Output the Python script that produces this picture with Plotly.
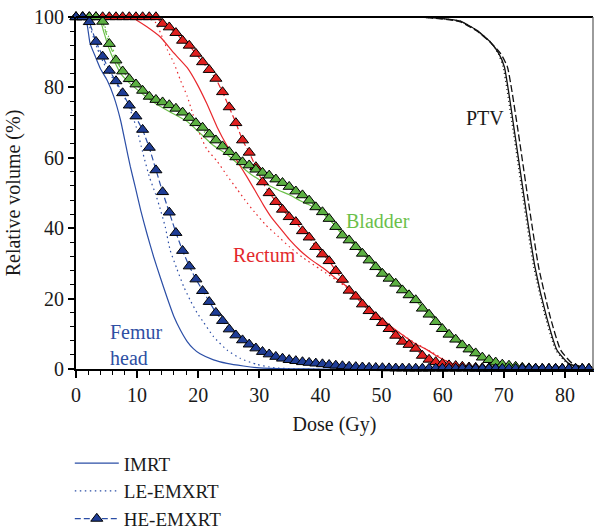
import plotly.graph_objects as go

# ---------------- data ----------------
# HE-EMXRT sampled doses (Gy) at marker positions
he_dose = [0, 1.09, 2.18, 3.27, 4.36, 5.45, 6.54, 7.63, 8.72, 9.81, 10.9, 11.99, 13.08, 14.17,
           15.26, 16.35, 17.44, 18.53, 19.62, 20.71, 21.8, 22.89, 23.98, 25.07, 26.16, 27.25,
           28.34, 29.43, 30.52, 31.61, 32.7, 33.79, 34.88, 35.97, 37.06, 38.15, 39.24, 40.33,
           41.42, 42.51, 43.6, 44.69, 45.78, 46.87, 47.96, 49.05, 50.14, 51.23, 52.32, 53.41,
           54.5, 55.59, 56.68, 57.77, 58.86, 59.95, 61.04, 62.13, 63.22, 64.31, 65.4, 66.49,
           67.58, 68.67, 69.76, 70.85, 71.94, 73.03, 74.12, 75.21, 76.3, 77.39, 78.48, 79.57,
           80.66, 81.75, 82.84, 83.93]

he_femur = [100, 100, 98.6, 93, 88.8, 84.8, 81.8, 78.4, 74.9, 71.8, 68, 62.9, 56.5, 50.3,
            44.5, 38.7, 33.6, 29.2, 25.5, 22.2, 19.1, 16, 13.7, 11.3, 9.6, 8.2,
            7, 5.9, 4.9, 4.2, 3.5, 3, 2.6, 2.3, 2, 1.8, 1.6, 1.4,
            1.2, 1.0, 0.85, 0.7, 0.6, 0.5, 0.4, 0.35, 0.3, 0.25, 0.2, 0.2,
            0.15, 0.15, 0.15, 0.15, 0.15, 0.15, 0.15, 0.15, 0.15, 0.15, 0.1, 0.1,
            0.1, 0.1, 0.1, 0.1, 0.1, 0.1, 0.1, 0.1, 0.05, 0.05, 0.05, 0.05,
            0.05, 0.05, 0.05, 0.05]

he_rectum = [100, 100, 100, 100, 100, 100, 100, 100, 100, 100, 100, 100, 100, 98.1,
             97.1, 95.5, 93.3, 91.9, 89.6, 87.2, 85, 82.5, 78.7, 74.4, 69.9, 65,
             61.5, 57.4, 53.1, 50, 47.5, 45.3, 43.2, 41.8, 39.2, 37.4, 34.7, 32.6,
             30.7, 27.9, 25.4, 22.3, 20.6, 18.4, 16.5, 14.8, 13.1, 11.4, 9.5, 7.8,
             6.9, 5.8, 3.8, 2.7, 2.0, 1.5, 1.1, 0.9, 0.7, 0.5, 0.4, 0.3,
             0.25, 0.2, 0.15, 0.1, 0.05, 0.05, 0.05, 0.05, 0.05, 0.05, 0.05, 0.05,
             0.05, 0.05, 0.05, 0.05]

he_bladder = [100, 100, 100, 100, 98.7, 92.4, 87.7, 84.6, 82.4, 80.9, 79.1, 77.4, 76.5, 75.8,
              75, 74, 72.9, 71.4, 69.9, 68.6, 66.7, 65, 63.3, 61.7, 60.2, 58.8,
              57.9, 56.7, 55.8, 55, 53.9, 52.9, 51.8, 50.5, 49.4, 47.9, 46, 44.6,
              42.7, 40.4, 38, 36.6, 34.7, 32.8, 30.9, 29, 27.1, 25.7, 24.3, 22.4,
              21, 19.6, 17.2, 15.5, 13.4, 11.4, 9.8, 8.4, 6.8, 5.6, 4.5, 3.3,
              2.6, 1.9, 1.3, 1.0, 0.7, 0.4, 0.25, 0.15, 0.05, 0.05, 0.05, 0.05,
              0.05, 0.05, 0.05, 0.05]

# IMRT / LE-EMXRT curves (dose, volume)
imrt_femur_d = [0, 1.5, 2.3, 3.2, 4.0, 5.1, 6.2, 7.3, 8.1, 8.9, 9.7, 10.6, 11.6, 12.7, 13.8,
                14.9, 16.0, 17.1, 18.2, 19.2, 20.3, 22.5, 24.7, 27.4, 30, 35, 40, 85]
imrt_femur_v = [100, 100, 92.5, 88.6, 85.3, 82, 77.3, 70.6, 64, 57.4, 51.7, 45, 38.5, 31.9, 26,
                20.3, 15, 11, 7.8, 5.8, 4.3, 2.6, 1.6, 0.85, 0.3, 0.05, 0, 0]

le_femur_d = [0, 1.5, 2.5, 3.5, 4.5, 5.5, 6.6, 7.7, 8.8, 9.9, 11, 12, 13, 13.6, 14.6, 15.4,
              16.5, 17.6, 18.7, 19.8, 20.9, 22.5, 24.7, 26.9, 29.6, 32.3, 36, 85]
le_femur_v = [100, 100, 96, 91, 87, 84, 81, 78, 74, 68.5, 61, 54.6, 49.8, 46.5, 40.4, 33.8,
              28.5, 23.5, 19.5, 16, 13.2, 9.2, 5.4, 3, 1.3, 0.4, 0, 0]

imrt_rectum_d = [0, 9, 10, 11.6, 13.8, 16, 18.2, 19.8, 21.4, 23.1, 24.7, 26.4, 28, 29.6, 30.7,
                 32, 33.4, 34.9, 36.7, 38.5, 40.5, 42.5, 44.4, 46, 47.6, 49.3, 51.4, 53.1,
                 55.3, 57.4, 59.1, 60.5, 61.8, 64.5, 68, 85]
imrt_rectum_v = [100, 100, 99, 97.2, 94.3, 89.8, 85.6, 81, 75.4, 68.7, 63.5, 59, 54.5, 49.8, 46.5,
                 43, 40, 36.8, 33.6, 31, 28.6, 25.8, 23.3, 20.7, 18, 15.4, 12.3, 10.1,
                 7.4, 5.5, 3.6, 2.3, 1.3, 0.35, 0, 0]

le_rectum_d = [0, 10.5, 12, 13, 14.3, 15, 16, 17.1, 18.2, 19.2, 20.3, 21.4, 23.1, 24.7, 26.4,
               28, 29.5, 31, 33, 35, 37, 40, 44.4, 47.6, 51.4, 55.3, 58, 61, 63, 66, 68, 85]
le_rectum_v = [100, 100, 99.5, 98.5, 93.5, 90.5, 87, 82, 77.5, 72, 66.5, 62.5, 59, 55, 51,
               47.2, 44, 41, 37.8, 34.6, 31.8, 28.3, 23, 17.8, 12.2, 7.6, 5, 2.0, 0.8, 0.2, 0, 0]

imrt_bladder_d = [0, 3.7, 4.5, 5.3, 6.2, 7.3, 8.9, 10.5, 12.7, 15.4, 18.2, 20.3, 22.5, 24.7,
                  26.5, 28.5, 30.7, 32.9, 34.9, 36.7, 38.3, 40, 42, 44, 46, 48, 50, 52, 54,
                  56, 58, 60, 62, 64, 66, 68, 70, 72, 75, 85]
imrt_bladder_v = [100, 100, 96, 91.5, 87.7, 84, 81, 78.7, 75.8, 73, 70.3, 67, 63.5, 61,
                  58.3, 55.5, 53, 51, 49.5, 47.8, 46.5, 44.8, 41.5, 38, 34.8, 31.5, 28.3, 25.5, 22.5,
                  19.2, 15.8, 12.2, 8.5, 5.5, 3.2, 1.8, 0.8, 0.3, 0, 0]

le_bladder_d = [0, 4, 5, 6, 7, 8, 9, 10.5, 12.7, 15.4, 18.2, 20.3, 22.5, 24.7, 26.5, 28.5,
                30.7, 32.9, 34.9, 36.7, 38.3, 40, 42, 44, 46, 48, 50, 52, 54, 56, 58, 60,
                62, 64, 66, 68, 70, 72, 75, 85]
le_bladder_v = [100, 100, 96, 91, 87, 84, 82, 80, 77, 74.5, 71.5, 68.5, 65, 62, 59.5, 57.5,
                55.5, 53.6, 51.5, 49.5, 47.6, 45, 41.5, 38, 34.5, 31, 27.8, 25, 22, 19, 15.5, 12,
                8.8, 6, 3.6, 2, 1, 0.4, 0, 0]

imrt_ptv_d = [0, 56, 59.6, 62.9, 65.6, 67.8, 69.2, 70.1, 71.8, 73.4, 75.1, 77, 78.7, 80.6, 82.6, 85]
imrt_ptv_v = [100, 100, 99.6, 98.8, 96.2, 92.9, 89.6, 85.8, 66.9, 47.9, 29, 14.8, 5.4, 1.6, 0.5, 0]

le_ptv_d = [0, 56, 59.6, 62.9, 65.6, 67.8, 69.1, 69.9, 71.6, 73.2, 74.9, 76.8, 78.5, 80.4, 82.4, 85]
le_ptv_v = [100, 100, 99.6, 98.8, 96.2, 92.9, 89.6, 85.8, 66.9, 47.9, 29, 14.8, 5.4, 1.6, 0.5, 0]

he_ptv_d = [0, 56, 59.6, 62.9, 65.6, 67.8, 69.5, 70.6, 72.4, 74.0, 75.7, 77.6, 79.3, 81.2, 83, 85]
he_ptv_v = [100, 100, 99.5, 98.6, 96, 92.8, 89.6, 85.8, 66.9, 47.9, 29, 14.8, 5.4, 1.6, 0.5, 0]

x_ticks = [0, 10, 20, 30, 40, 50, 60, 70, 80]
y_ticks = [0, 20, 40, 60, 80, 100]

# ---------------- styles ----------------
FONT = "Liberation Serif"
BLUE_L, BLUE_M = "#2b4ea6", "#1f3d96"
RED_L, RED_M = "#e8282d", "#e0201f"
GREEN_L, GREEN_M = "#6cc04a", "#5cb042"
DOT = "1.5px,3.5px"
DASH = "6px,3px"

fig = go.Figure()

def line(x, y, color, dash, name=None, legend=False, width=1.2):
    fig.add_trace(go.Scatter(x=x, y=y, mode="lines", name=name, showlegend=legend,
                             line=dict(color=color, width=width, dash=dash, shape="spline", smoothing=0.5),
                             hoverinfo="skip"))

# PTV
line(imrt_ptv_d, imrt_ptv_v, "#111111", "solid", width=1.3)
line(le_ptv_d, le_ptv_v, "#111111", "1px,3px", width=1.3)
line(he_ptv_d, he_ptv_v, "#111111", "7px,3px", width=1.3)

# Bladder / rectum lines
line(imrt_bladder_d, imrt_bladder_v, GREEN_L, "solid")
line(le_bladder_d, le_bladder_v, GREEN_L, DOT)
line(imrt_rectum_d, imrt_rectum_v, RED_L, "solid")
line(le_rectum_d, le_rectum_v, RED_L, DOT)

# Femur lines (legend carriers)
line(imrt_femur_d, imrt_femur_v, BLUE_L, "solid", name="IMRT", legend=True)
line(le_femur_d, le_femur_v, BLUE_L, DOT, name="LE-EMXRT", legend=True)

def he(y, lc, mc, name=None, legend=False):
    fig.add_trace(go.Scatter(x=he_dose, y=y, mode="lines+markers", name=name, showlegend=legend,
                             cliponaxis=False,
                             line=dict(color=lc, width=1.2, dash=DASH),
                             marker=dict(symbol="triangle-up", size=10.5, color=mc,
                                         line=dict(color="#000000", width=1)),
                             hoverinfo="skip"))

he(he_rectum, RED_L, RED_M)
he(he_bladder, GREEN_L, GREEN_M)
he(he_femur, BLUE_L, BLUE_M, name="HE-EMXRT", legend=True)

# Labels
ann_font = dict(family=FONT, size=20)
fig.add_annotation(x=66.9, y=71.4, text="PTV", showarrow=False, font=dict(ann_font, color="#1a1a1a"))
fig.add_annotation(x=49.4, y=42, text="Bladder", showarrow=False, font=dict(ann_font, color="#6abf4b"))
fig.add_annotation(x=30.8, y=32.3, text="Rectum", showarrow=False, font=dict(ann_font, color="#e3292c"))
fig.add_annotation(x=5.2, y=6.8, text="Femur<br>head", showarrow=False, xanchor="left", align="left",
                   font=dict(ann_font, color="#2e4fa3"))

# top / right frame
fig.add_shape(type="line", xref="paper", yref="paper", x0=0, x1=1, y0=1, y1=1,
              line=dict(color="#000000", width=2))
fig.add_shape(type="line", xref="paper", yref="paper", x0=1, x1=1, y0=0, y1=1,
              line=dict(color="#666666", width=1.3))

fig.update_layout(
    width=594, height=529,
    margin=dict(l=76, r=1, t=17, b=160, autoexpand=False),
    paper_bgcolor="white", plot_bgcolor="white",
    font=dict(family=FONT, size=20, color="#1a1a1a"),
    showlegend=True,
    legend=dict(x=-0.012, y=-0.214, xanchor="left", yanchor="top", traceorder="normal",
                font=dict(family=FONT, size=19, color="#1a1a1a"), itemwidth=44,
                bgcolor="rgba(0,0,0,0)", tracegroupgap=0),
    xaxis=dict(range=[0, 84.6], tickvals=x_ticks, showgrid=False, zeroline=False,
               showline=True, linecolor="#000000", linewidth=2, automargin=False,
               ticks="outside", ticklen=7, tickwidth=1.5, tickcolor="#000000",
               minor=dict(dtick=2, ticks="outside", ticklen=4, tickwidth=1.2, tickcolor="#000000"),
               title=dict(text="Dose (Gy)", standoff=12, font=dict(family=FONT, size=20)),
               tickfont=dict(family=FONT, size=20)),
    yaxis=dict(range=[0, 100], tickvals=y_ticks, showgrid=False, zeroline=False,
               showline=True, linecolor="#000000", linewidth=2, automargin=False,
               ticks="outside", ticklen=6, tickwidth=1.5, tickcolor="#000000",
               minor=dict(dtick=4, ticks="outside", ticklen=4, tickwidth=1.2, tickcolor="#000000"),
               title=dict(text="Relative volume (%)", standoff=8, font=dict(family=FONT, size=20)),
               tickfont=dict(family=FONT, size=20)),
)

fig.write_html("out.html", config={"displayModeBar": False},
               post_script="document.body.style.margin='0';")
